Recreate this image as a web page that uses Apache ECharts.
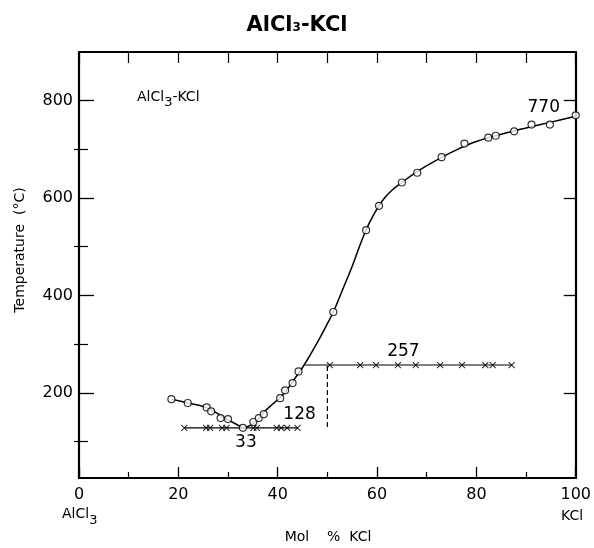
<!DOCTYPE html>
<html>
<head>
<meta charset="utf-8">
<script src="https://cdn.jsdelivr.net/npm/echarts@6/dist/echarts.min.js"></script>
<style>
  html, body { margin: 0; padding: 0; background: #fff; }
  #chart { width: 594px; height: 548px; }
</style>
</head>
<body>
<div id="chart"></div>
<script>
// AlCl3-KCl phase diagram: liquidus, eutectic (128 °C) and peritectic-type (257 °C) lines

// Mol % KCl tick labels and temperature tick labels
const xTickLabels = [0, 20, 40, 60, 80, 100];
const yTickLabels = [200, 400, 600, 800];
const yMinorTicks = [100, 300, 500, 700];

// Measured liquidus points [mol % KCl, °C]
const liquidusPoints = [
  [18.6, 187], [21.9, 179], [25.7, 170], [26.6, 162], [28.5, 148], [30.0, 146],
  [33, 128], [35.1, 140], [36.2, 148], [37.2, 156], [40.5, 189], [41.5, 205],
  [43.0, 220], [44.2, 244], [51.2, 366], [57.8, 534], [60.4, 584], [65.0, 632],
  [68.1, 652], [73.0, 684], [77.6, 712], [82.4, 724], [83.9, 728], [87.6, 737],
  [91.1, 751], [94.8, 751], [100, 770]
];

// Liquidus curve, AlCl3-rich side down to the eutectic
const liquidusLeft = [
  [18.6, 187], [22, 179], [25, 172], [27, 163], [29, 150], [31, 139], [33, 128]
];

// Liquidus curve, from the eutectic up to pure KCl
const liquidusRight = [
  [33, 128], [34.5, 133], [36, 145], [37.5, 163], [39, 177], [40.5, 190],
  [42, 208], [43.5, 230], [45, 252], [46.5, 277], [48.3, 309], [50, 342],
  [51.2, 366], [53, 410], [55, 460], [57, 515], [58.5, 550], [60, 578],
  [61.5, 600], [63, 616], [65, 632], [68, 654], [72, 678], [76, 699],
  [80, 716], [85, 731], [90, 744], [95, 756], [100, 768]
];

// Eutectic arrest at 128 °C: compositions of the thermal-arrest points
const eutecticT = 128;
const eutecticX = 33;
const eutecticArrests = [21.2, 25.6, 26.4, 28.8, 29.7, 35.1, 35.8, 39.8, 40.7, 41.9, 44.0];

// Arrest at 257 °C (KAlCl4 side)
const upperT = 257;
const upperLineStart = 45.3;
const upperArrests = [50.5, 56.6, 59.8, 64.2, 67.8, 72.7, 77.1, 81.8, 83.3, 87.1];

// Dashed composition marker at 50 mol % KCl
const dashedX = 50;
const dashedFrom = 130;

// Melting point of KCl
const kclMelt = 770;

const FONT = '"DejaVu Sans", "Liberation Sans", sans-serif';
const INK = '#000';

const chart = echarts.init(document.getElementById('chart'), null, { renderer: 'canvas' });

const crossSymbol = 'path://M0,0L10,10M10,0L0,10';

const eutecticLine = [[eutecticArrests[0], eutecticT], [eutecticArrests[eutecticArrests.length - 1], eutecticT]];
const upperLine = [[upperLineStart, upperT], [upperArrests[upperArrests.length - 1], upperT]];

const grid = { left: 79, right: 18, top: 52, bottom: 70 };

const frameLine = { show: true, onZero: false, lineStyle: { color: INK, width: 2.2 } };

const valueLabel = {
  show: true, color: '#000', fontFamily: FONT, fontSize: 17, textBorderWidth: 0, opacity: 1
};

const option = {
  animation: false,
  backgroundColor: '#fff',
  title: {
    text: '{a|AlCl}{s|3}{a|-KCl}',
    left: 'center',
    top: 8,
    textStyle: {
      rich: {
        a: { fontFamily: FONT, fontWeight: 'bold', fontSize: 21, color: '#000', lineHeight: 26, verticalAlign: 'middle' },
        s: { fontFamily: FONT, fontWeight: 'bold', fontSize: 12, color: '#000', lineHeight: 26, verticalAlign: 'middle', padding: [3, 0, 0, 0] }
      }
    }
  },
  grid: grid,
  xAxis: [
    {
      type: 'value', min: 0, max: 100, interval: 20, position: 'bottom',
      axisLine: frameLine,
      axisTick: { show: true, inside: true, length: 11, lineStyle: { color: INK, width: 1.3 } },
      minorTick: { show: true, splitNumber: 2, length: 6, lineStyle: { color: INK, width: 1.2 } },
      axisLabel: {
        show: true, margin: 9, color: INK, fontFamily: FONT, fontSize: 16,
        customValues: xTickLabels
      },
      splitLine: { show: false }
    },
    {
      type: 'value', min: 0, max: 100, interval: 10, position: 'top',
      axisLine: frameLine,
      axisTick: { show: true, inside: true, length: 11, lineStyle: { color: INK, width: 1.2 } },
      axisLabel: { show: false },
      splitLine: { show: false }
    }
  ],
  yAxis: [
    {
      type: 'value', min: 25, max: 900, position: 'left',
      axisLine: frameLine,
      axisTick: { show: true, inside: true, length: 15, customValues: yTickLabels, lineStyle: { color: INK, width: 1.3 } },
      axisLabel: { show: true, margin: 6, color: INK, fontFamily: FONT, fontSize: 16, customValues: yTickLabels },
      splitLine: { show: false }
    },
    {
      type: 'value', min: 25, max: 900, position: 'left',
      axisLine: { show: false },
      axisTick: { show: true, inside: true, length: 9, customValues: yMinorTicks, lineStyle: { color: INK, width: 1.2 } },
      axisLabel: { show: false },
      splitLine: { show: false }
    },
    {
      type: 'value', min: 25, max: 900, position: 'right',
      axisLine: frameLine,
      axisTick: { show: true, inside: true, length: 12, customValues: yTickLabels, lineStyle: { color: INK, width: 1.3 } },
      axisLabel: { show: false },
      splitLine: { show: false }
    },
    {
      type: 'value', min: 25, max: 900, position: 'right',
      axisLine: { show: false },
      axisTick: { show: true, inside: true, length: 5, customValues: yMinorTicks, lineStyle: { color: INK, width: 1.2 } },
      axisLabel: { show: false },
      splitLine: { show: false }
    }
  ],
  series: [
    {
      name: 'liquidus-left', type: 'line', data: liquidusLeft, smooth: 0.4,
      showSymbol: false, lineStyle: { color: INK, width: 1.5 }, z: 2
    },
    {
      name: 'liquidus-right', type: 'line', data: liquidusRight, smooth: 0.4,
      showSymbol: false, lineStyle: { color: INK, width: 1.5 }, z: 2
    },
    {
      name: 'eutectic-line', type: 'line', data: eutecticLine,
      showSymbol: false, lineStyle: { color: INK, width: 1.1 }, z: 2
    },
    {
      name: 'upper-line', type: 'line', data: upperLine,
      showSymbol: false, lineStyle: { color: INK, width: 1.1 }, z: 2
    },
    {
      name: 'dashed-50', type: 'line', data: [[dashedX, dashedFrom], [dashedX, upperT]],
      showSymbol: false, lineStyle: { color: INK, width: 1.2, type: [5, 3] }, z: 2
    },
    {
      name: 'eutectic-arrests', type: 'scatter',
      data: eutecticArrests.map(x => [x, eutecticT]),
      symbol: crossSymbol, symbolSize: 6,
      itemStyle: { color: 'rgba(0,0,0,0)', borderColor: INK, borderWidth: 1.1 }, z: 3
    },
    {
      name: 'upper-arrests', type: 'scatter',
      data: upperArrests.map(x => [x, upperT]),
      symbol: crossSymbol, symbolSize: 6,
      itemStyle: { color: 'rgba(0,0,0,0)', borderColor: INK, borderWidth: 1.1 }, z: 3
    },
    {
      name: 'liquidus-points', type: 'scatter', data: liquidusPoints,
      symbol: 'circle', symbolSize: 7,
      itemStyle: { color: '#fff', borderColor: INK, borderWidth: 1.2 }, z: 4
    },
    {
      name: 'value-labels', type: 'scatter', symbolSize: 0, z: 5,
      itemStyle: { opacity: 1 },
      label: valueLabel,
      data: [
        { value: [eutecticX, eutecticT], label: { formatter: String(eutecticX), position: 'inside', offset: [3, 15] } },
        { value: [eutecticArrests[eutecticArrests.length - 1], eutecticT], label: { formatter: String(eutecticT), position: 'inside', offset: [2, -13] } },
        { value: [upperArrests[4] - 2.5, upperT], label: { formatter: String(upperT), position: 'inside', offset: [0, -13] } },
        { value: [100, kclMelt], label: { formatter: String(kclMelt), position: 'inside', offset: [-32, -8] } }
      ]
    }
  ],
  graphic: [
    {
      type: 'text', left: 137, top: 90,
      style: {
        text: '{a|AlCl}{s|3}{a|-KCl}',
        rich: {
          a: { fontFamily: FONT, fontSize: 14, fill: INK, lineHeight: 18, verticalAlign: 'top' },
          s: { fontFamily: FONT, fontSize: 13, fill: INK, lineHeight: 18, verticalAlign: 'top', padding: [6, 0, 0, 0] }
        }
      }
    },
    {
      type: 'text', x: 20, y: 250, rotation: Math.PI / 2,
      style: {
        text: 'Temperature  (°C)', fontFamily: FONT, fontSize: 14, fill: INK,
        align: 'center', verticalAlign: 'middle'
      }
    },
    {
      type: 'text', left: 62, top: 507,
      style: {
        text: '{a|AlCl}{s|3}',
        rich: {
          a: { fontFamily: FONT, fontSize: 14, fill: INK, lineHeight: 18, verticalAlign: 'top' },
          s: { fontFamily: FONT, fontSize: 13, fill: INK, lineHeight: 18, verticalAlign: 'top', padding: [7, 0, 0, 0] }
        }
      }
    },
    {
      type: 'text', x: 572, y: 516,
      style: { text: 'KCl', fontFamily: FONT, fontSize: 14, fill: INK, align: 'center', verticalAlign: 'middle' }
    },
    {
      type: 'text', x: 328, y: 537,
      style: { text: 'Mol    %  KCl', fontFamily: FONT, fontSize: 14, fill: INK, align: 'center', verticalAlign: 'middle' }
    }
  ]
};

chart.setOption(option);
</script>
</body>
</html>
